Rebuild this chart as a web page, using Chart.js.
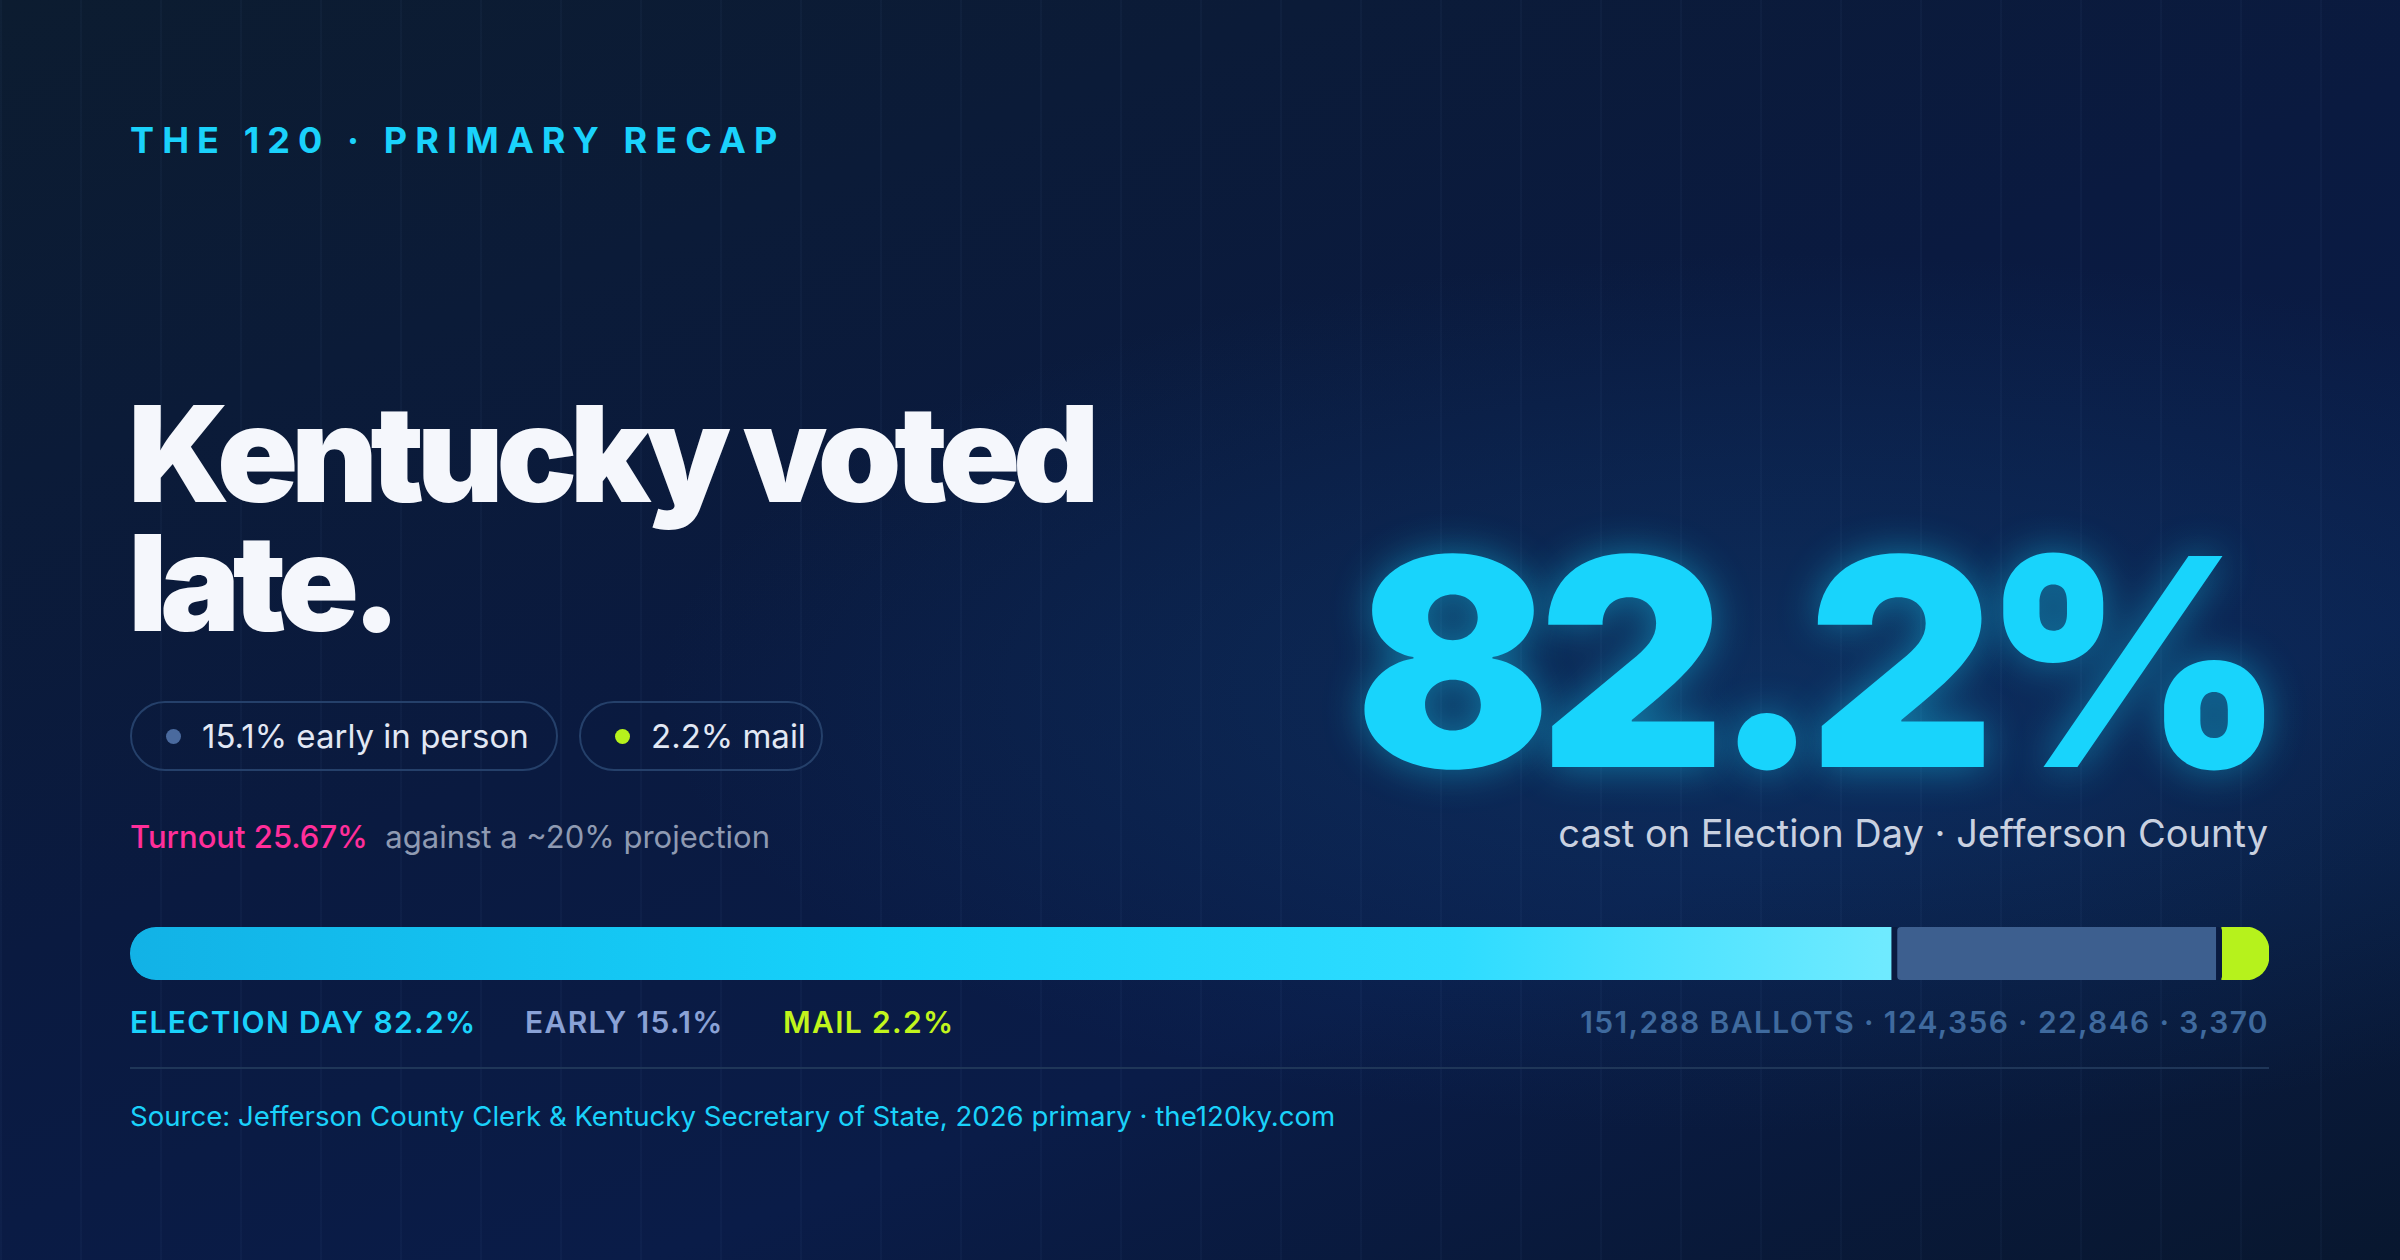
<!DOCTYPE html>
<html><head><meta charset="utf-8">
<script src="https://cdn.jsdelivr.net/npm/chart.js@4"></script>
<style>
html,body{margin:0;padding:0;}
body{width:2400px;height:1260px;position:relative;overflow:hidden;font-family:Inter,"Noto Sans",sans-serif;
background:radial-gradient(ellipse at 75% 55%, rgba(20,90,150,0.3), rgba(0,0,0,0) 45%),linear-gradient(160deg,#0c1c30 0%,#0a1a40 45%,#0a1c48 70%,#08172f 100%);}
.grid{position:absolute;inset:0;background:repeating-linear-gradient(90deg,rgba(120,160,220,0.04) 0 2px,transparent 2px 80px);}
.abs{position:absolute;white-space:nowrap;}
.kicker{left:130px;top:118px;font-size:36px;font-weight:700;letter-spacing:0.225em;color:#1ad2fb;}
.title{left:128px;font-size:134px;font-weight:900;letter-spacing:-0.055em;line-height:120px;color:#f5f7fc;}
.pill{top:701px;height:70px;border:2px solid #25406a;border-radius:36px;box-sizing:border-box;font-size:33px;color:#e2e8f4;display:flex;align-items:center;padding-left:34px;}
.dot{width:15px;height:15px;border-radius:50%;display:inline-block;margin-right:21px;}
.turn{left:130px;top:818px;font-size:31px;color:#8f9ab2;}
.big{right:128px;top:578px;font-size:290px;font-weight:900;letter-spacing:-0.045em;line-height:168px;color:#18d4fc;text-shadow:0 0 40px rgba(24,212,252,0.45);}
.cast{right:132px;top:810px;font-size:38px;color:#c9d1e0;}
.lab{top:1004px;font-size:30px;font-weight:600;letter-spacing:0.045em;}
.src{left:130px;top:1099px;font-size:27.6px;color:#1ad2fb;}
#wrap{position:absolute;left:130px;top:927px;width:2139px;height:53px;}
</style></head><body>
<div class="grid"></div>
<div class="abs kicker">THE 120 · PRIMARY RECAP</div>
<div class="abs title" style="top:393px">Kentucky voted</div>
<div class="abs title" style="top:522px">late.</div>
<div class="abs pill" style="left:130px;width:428px;"><span class="dot" style="background:#4a6a9e"></span>15.1% early in person</div>
<div class="abs pill" style="left:579px;width:244px;"><span class="dot" style="background:#b6f21c"></span>2.2% mail</div>
<div class="abs turn"><span style="color:#ff2e9a;font-weight:500">Turnout 25.67%</span>&nbsp;&nbsp;against a ~20% projection</div>
<div class="abs big">82.2%</div>
<div class="abs cast">cast on Election Day · Jefferson County</div>
<div id="wrap"><canvas id="c"></canvas></div>
<div class="abs lab" style="left:130px;color:#1ad2fb">ELECTION DAY 82.2%</div>
<div class="abs lab" style="left:525px;color:#8aa2d6">EARLY 15.1%</div>
<div class="abs lab" style="left:783px;color:#c2f51c">MAIL 2.2%</div>
<div class="abs lab" style="right:131px;color:#3f6a9e">151,288 BALLOTS · 124,356 · 22,846 · 3,370</div>
<div class="abs" style="left:130px;width:2139px;top:1067px;height:2px;background:#1f3658"></div>
<div class="abs src">Source: Jefferson County Clerk &amp; Kentucky Secretary of State, 2026 primary · the120ky.com</div>
<script>
const categories=["Ballots"];
const seriesNames=["Election Day","Early","Mail"];
const electionDay=[82.2];
const early=[15.1];
const mail=[2.2];
const ctx=document.getElementById('c');
function grad(c){const {chart}=c;const a=chart.chartArea;if(!a)return '#18d4fc';
const g=chart.ctx.createLinearGradient(a.left,0,a.right,0);
g.addColorStop(0,'#12b2e6');g.addColorStop(0.35,'#16d2fb');g.addColorStop(0.62,'#2edcff');g.addColorStop(0.82,'#6feaff');return g;}
const gap='#0a1b40';
new Chart(ctx,{type:'bar',
data:{labels:categories,datasets:[
{label:seriesNames[0],data:electionDay,backgroundColor:grad,borderColor:gap,borderWidth:{right:6},borderSkipped:false,borderRadius:{topLeft:26,bottomLeft:26}},
{label:seriesNames[1],data:early,backgroundColor:'#3d5f8f',borderColor:gap,borderWidth:{right:6},borderSkipped:false,borderRadius:{topRight:4,bottomRight:4,topLeft:4,bottomLeft:4}},
{label:seriesNames[2],data:mail,backgroundColor:'#b6f21c',borderSkipped:false,borderRadius:{topRight:26,bottomRight:26}}]},
options:{indexAxis:'y',responsive:true,maintainAspectRatio:false,animation:false,
datasets:{bar:{barPercentage:1,categoryPercentage:1}},
layout:{padding:0},
plugins:{legend:{display:false},tooltip:{enabled:false}},
scales:{x:{stacked:true,min:0,max:99.5,display:false},y:{stacked:true,display:false}}}});
</script>
</body></html>
